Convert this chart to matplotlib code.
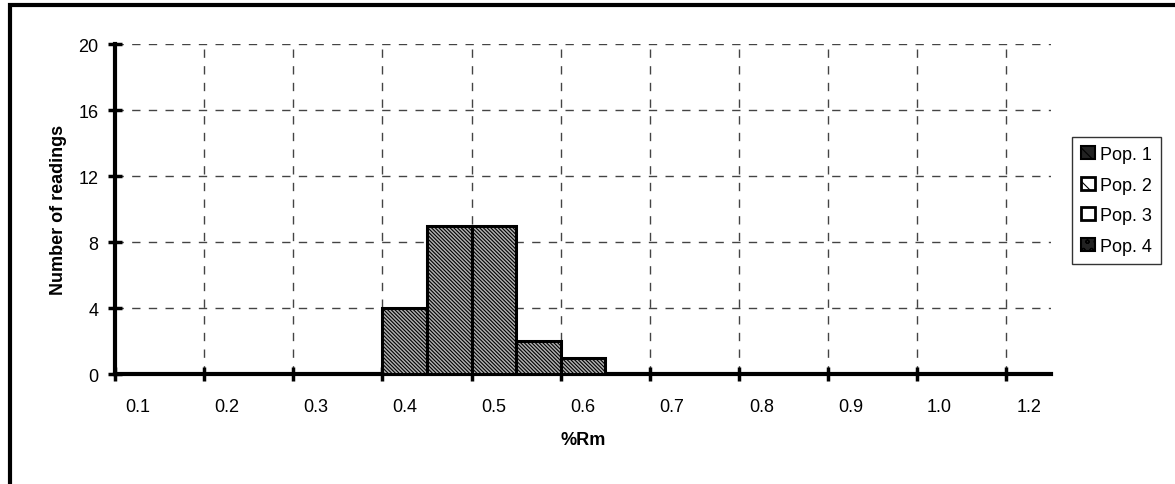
import matplotlib.pyplot as plt
from matplotlib.patches import Patch, Rectangle
import numpy as np

plt.rcParams['font.family'] = ['Liberation Sans', 'DejaVu Sans']
plt.rcParams['hatch.linewidth'] = 0.8

# %Rm classes (category axis, labels shown on every other class)
categories = ['0.1', '0.15', '0.2', '0.25', '0.3', '0.35', '0.4', '0.45', '0.5',
              '0.55', '0.6', '0.65', '0.7', '0.75', '0.8', '0.85', '0.9', '0.95',
              '1.0', '1.1', '1.2']
pop1 = [0, 0, 0, 0, 0, 0, 4, 9, 9, 2, 1, 0, 0, 0, 0, 0, 0, 0, 0, 0, 0]
pop2 = [0] * 21
pop3 = [0] * 21
pop4 = [0] * 21
series_names = ['Pop. 1', 'Pop. 2', 'Pop. 3', 'Pop. 4']
y_ticks = [0, 4, 8, 12, 16, 20]

fig = plt.figure(figsize=(11.75, 4.85), dpi=100)
ax = fig.add_axes([0.0979, 0.2268, 0.7966, 0.6804])

x = np.arange(len(categories))
bottom = np.zeros(len(categories))
styles = [dict(facecolor='#b0b0b0', hatch='\\' * 9),
          dict(facecolor='white', hatch='\\\\'),
          dict(facecolor='white', hatch=''),
          dict(facecolor='white', hatch='xxxx')]
for vals, st in zip([pop1, pop2, pop3, pop4], styles):
    vals = np.array(vals, dtype=float)
    mask = vals > 0
    if mask.any():
        ax.bar(x[mask], vals[mask], width=1.0, bottom=bottom[mask],
               edgecolor='black', linewidth=2.2, zorder=3, **st)
    bottom += vals

ax.set_xlim(-0.5, len(categories) - 0.5)
ax.set_ylim(0, 20)

# major ticks at class boundaries (every 2 classes), labels at class centres
ax.set_xticks(np.arange(-0.5, len(categories) - 1, 2))
ax.set_xticklabels([])
ax.set_xticks(x[::2], minor=True)
ax.set_xticklabels(categories[::2], minor=True, fontsize=13)
ax.tick_params(axis='x', which='minor', length=0, pad=17)
ax.tick_params(axis='x', which='major', direction='inout', length=10, width=2.5)
ax.set_yticks(y_ticks)
ax.set_yticklabels([str(v) for v in y_ticks], fontsize=13)
ax.tick_params(axis='y', direction='inout', length=10, width=2.5, pad=7)

ax.grid(True, which='major', linestyle=(0, (6, 6)), color='#444444', linewidth=1)
ax.set_axisbelow(True)

for s in ['top', 'right']:
    ax.spines[s].set_visible(False)
ax.spines['left'].set_linewidth(3)
ax.spines['bottom'].set_linewidth(3)

ax.set_xlabel('%Rm', fontsize=13, fontweight='bold', labelpad=12)
ax.set_ylabel('Number of readings', fontsize=13, fontweight='bold', labelpad=8)

handles = [Patch(facecolor='#222222', edgecolor='black', hatch='\\\\', linewidth=1.5),
           Patch(facecolor='white', edgecolor='black', hatch='\\', linewidth=2),
           Patch(facecolor='white', edgecolor='black', linewidth=2),
           Patch(facecolor='#222222', edgecolor='black', hatch='oo', linewidth=1.5)]
leg = fig.legend(handles, series_names, loc='center left',
                 bbox_to_anchor=(0.9125, 0.585), fontsize=13, frameon=True,
                 fancybox=False, edgecolor='black', handlelength=0.75,
                 handleheight=0.75, handletextpad=0.3, labelspacing=0.75,
                 borderpad=0.5, borderaxespad=0)
leg.get_frame().set_linewidth(1)

# outer chart frame
fig.add_artist(Rectangle((0.0085, -0.1), 1.2, 1.087, transform=fig.transFigure,
                         fill=False, edgecolor='black', linewidth=3))

fig.savefig('out.png', dpi=100)
